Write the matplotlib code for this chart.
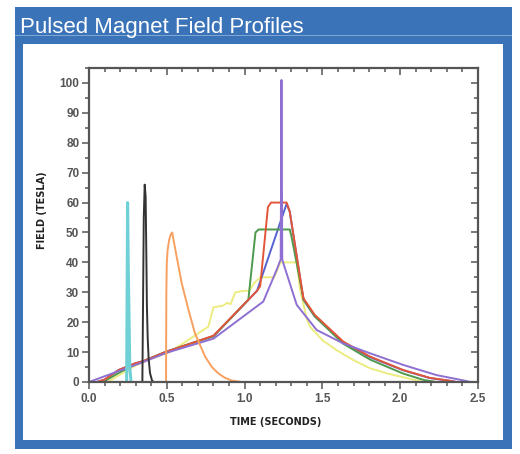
import matplotlib
matplotlib.use("Agg")
import matplotlib.pyplot as plt
from matplotlib.patches import Rectangle
from matplotlib.ticker import MultipleLocator
from matplotlib import font_manager

# ---------------- data ----------------
title = "Pulsed Magnet Field Profiles"
xlabel = "TIME (SECONDS)"
ylabel = "FIELD (TESLA)"

cyan_t = [0.242, 0.248, 0.252, 0.262, 0.270]
cyan_v = [0, 60, 40, 5, 0]

black_t = [0.343, 0.352, 0.358, 0.364, 0.368, 0.372, 0.377, 0.383, 0.392, 0.405, 0.415]
black_v = [0, 55, 66, 62, 45, 26, 15, 8, 3, 0.5, 0]

orange_t = [0.495, 0.497, 0.500, 0.505, 0.515, 0.525, 0.535, 0.545, 0.563, 0.596, 0.640,
            0.681, 0.746, 0.790, 0.831, 0.870, 0.917, 0.980]
orange_v = [0, 30, 40, 44, 47.5, 49.3, 50, 47, 42, 33, 24, 16.3, 8.5, 5, 2.9, 1.5, 0.5, 0]

yellow_t = [0.12, 0.20, 0.30, 0.40, 0.52, 0.767, 0.80, 0.86, 0.89, 0.91, 0.94, 1.00, 1.03,
            1.06, 1.10, 1.19, 1.23, 1.335, 1.356, 1.40, 1.42, 1.50, 1.59, 1.70, 1.806,
            1.92, 2.02, 2.10, 2.15]
yellow_v = [0, 2.5, 5.5, 7.8, 10, 18.5, 25, 25.5, 26.5, 26, 30, 30.5, 30.5,
            33, 35, 35, 40, 40, 31, 21, 18.5, 14, 10.7, 7.3, 4.6, 2.8, 1.6, 0.6, 0]

blue_t = [0.05, 0.10, 0.19, 0.30, 0.35, 0.49, 0.65, 0.80, 1.08, 1.27, 1.29, 1.378, 1.45,
          1.634, 1.806, 2.02, 2.19, 2.32, 2.36]
blue_v = [0, 0.8, 4, 6.3, 7, 10, 12.8, 15.3, 30.5, 59.6, 57, 27.5, 22,
          13.3, 8.3, 3.9, 1.3, 0.4, 0]

green_t = [0.09, 0.19, 0.30, 0.35, 0.49, 0.65, 0.80, 1.024, 1.07, 1.09, 1.29, 1.30, 1.38,
           1.45, 1.634, 1.806, 2.02, 2.15, 2.23]
green_v = [0, 3, 6, 7, 10, 12.8, 15.3, 27.5, 50, 51, 51, 49, 27.5,
           22, 12.8, 7.5, 2.8, 0.7, 0]

red_t = [0.05, 0.10, 0.19, 0.30, 0.35, 0.49, 0.65, 0.80, 1.08, 1.10, 1.15, 1.17, 1.27,
         1.29, 1.378, 1.45, 1.634, 1.806, 2.02, 2.19, 2.32, 2.36]
red_v = [0, 0.8, 4, 6.3, 7, 10, 12.8, 15.5, 30.5, 32, 58.5, 60, 60,
         57, 28, 22.5, 13.5, 8.5, 4, 1.4, 0.4, 0]

purple_t = [0.0, 0.35, 0.50, 0.80, 1.12, 1.206, 1.232, 1.237, 1.242, 1.249, 1.335, 1.463,
            1.634, 1.806, 2.02, 2.234, 2.41, 2.45]
purple_v = [0, 6.7, 9.8, 14.5, 26.9, 37.5, 41, 101, 41, 39.7, 25.8, 17.4,
            12.9, 9.6, 5.7, 2.3, 0.5, 0]

x_ticks = [0.0, 0.5, 1.0, 1.5, 2.0, 2.5]
y_ticks = [0, 10, 20, 30, 40, 50, 60, 70, 80, 90, 100]

# ---------------- fonts ----------------
avail = {f.name for f in font_manager.fontManager.ttflist}
if "Liberation Sans Narrow" in avail:
    title_font, title_size = "Liberation Sans Narrow", 19
else:
    title_font, title_size = "Liberation Sans", 16
tick_font = "Liberation Sans"

W, H = 520, 454
fig = plt.figure(figsize=(W / 100, H / 100), dpi=100)
fig.patch.set_facecolor("white")

def px_rect(x0, y0, x1, y1, color, z=0):
    fig.patches.append(Rectangle((x0 / W, 1 - y1 / H), (x1 - x0) / W, (y1 - y0) / H,
                                 transform=fig.transFigure, facecolor=color,
                                 edgecolor="none", zorder=z))

blue = "#3b73b9"
px_rect(15, 7, 512, 449, blue, 0)
px_rect(23, 44, 503, 440, "white", 1)
px_rect(15, 35, 512, 36, "#7fa5d4", 2)

fig.text(20 / W, 1 - 33.5 / H, title, color="white", fontsize=title_size,
         family=title_font, ha="left", va="baseline", zorder=5)

ax = fig.add_axes([89 / W, 1 - 382 / H, (478 - 89) / W, (382 - 68) / H])
ax.set_zorder(3)
ax.set_facecolor("white")

lw = 1.4
ax.plot(yellow_t, yellow_v, color="#ecec80", lw=lw)
ax.plot(blue_t, blue_v, color="#5563d0", lw=lw)
ax.plot(green_t, green_v, color="#4d9a4d", lw=lw)
ax.plot(red_t, red_v, color="#e2553a", lw=lw)
ax.plot(purple_t, purple_v, color="#8e6fd2", lw=lw)
ax.plot(orange_t, orange_v, color="#f8a060", lw=lw)
ax.plot(cyan_t, cyan_v, color="#6fd0d6", lw=2.2)
ax.plot(black_t, black_v, color="#333333", lw=lw)

ax.set_xlim(0, 2.5)
ax.set_ylim(0, 105)
ax.set_xticks(x_ticks)
ax.set_xticklabels([f"{v:.1f}" for v in x_ticks])
ax.set_yticks(y_ticks)
ax.set_yticklabels([str(v) for v in y_ticks])
ax.xaxis.set_minor_locator(MultipleLocator(0.1))
ax.yaxis.set_minor_locator(MultipleLocator(5))

spine_c = "#555555"
for s in ax.spines.values():
    s.set_color(spine_c)
    s.set_linewidth(1.6)

ax.tick_params(which="both", color=spine_c, width=1.1, labelcolor="#555555")
ax.tick_params(which="major", length=5)
ax.tick_params(which="minor", length=3)
ax.tick_params(axis="x", which="both", direction="out", top=False, pad=3)
ax.tick_params(axis="y", which="both", direction="out", right=False, pad=2)
for lab in ax.get_xticklabels() + ax.get_yticklabels():
    lab.set_family(tick_font)
    lab.set_fontsize(8.5)
    lab.set_fontweight("bold")

# top/right ticks point inward
ax2 = ax.twinx()
ax2.set_ylim(0, 105)
ax2.set_yticks(y_ticks)
ax2.yaxis.set_minor_locator(MultipleLocator(5))
ax2.tick_params(axis="y", which="both", direction="in", color=spine_c, width=1.1,
                labelright=False)
ax2.tick_params(which="major", length=5)
ax2.tick_params(which="minor", length=3)
ax3 = ax.twiny()
ax3.set_xlim(0, 2.5)
ax3.set_xticks(x_ticks)
ax3.xaxis.set_minor_locator(MultipleLocator(0.1))
ax3.tick_params(axis="x", which="both", direction="in", color=spine_c, width=1.1,
                labeltop=False)
ax3.tick_params(which="major", length=5)
ax3.tick_params(which="minor", length=3)
for a in (ax2, ax3):
    for s in a.spines.values():
        s.set_visible(False)

fig.text(276 / W, 1 - 422 / H, xlabel, fontsize=7, fontweight="bold",
         family="DejaVu Sans", ha="center", va="center", color="#222222", zorder=5)
fig.text(42 / W, 1 - 210 / H, ylabel, fontsize=7, fontweight="bold",
         family="DejaVu Sans", ha="center", va="center", rotation=90,
         color="#222222", zorder=5)

fig.savefig("out.png", dpi=100, facecolor="white")
